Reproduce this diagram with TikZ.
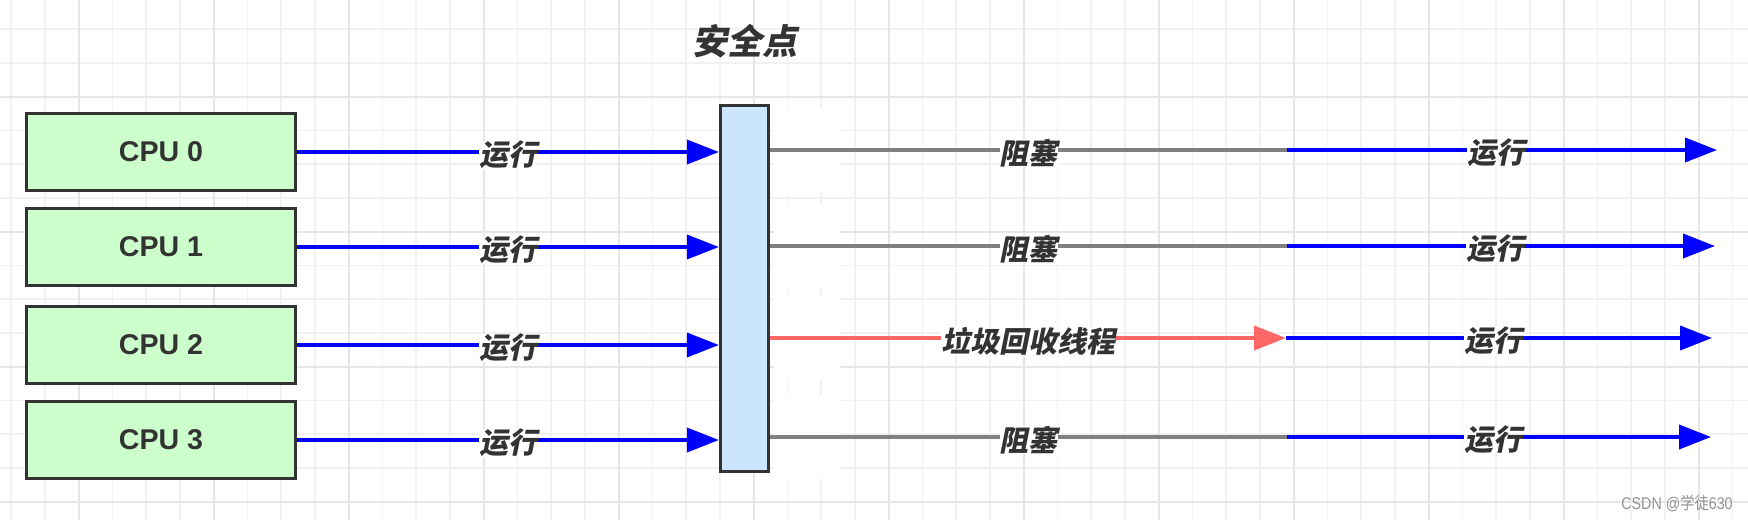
\documentclass[tikz,border=0pt]{standalone}
\usepackage{graphicx}
\usepackage{fontspec}
\setmainfont{Liberation Sans}
\newfontfamily\cjk[FakeSlant=0.2]{Noto Sans CJK SC}
\newfontfamily\cjkup{Noto Sans CJK SC}
\usetikzlibrary{arrows.meta}
\definecolor{txt}{HTML}{333333}
\definecolor{boxgreen}{HTML}{CCFFCC}
\definecolor{barblue}{HTML}{CCE5FF}
\definecolor{runblue}{HTML}{0000FF}
\definecolor{blockgray}{HTML}{808080}
\definecolor{gcred}{HTML}{FF6666}
\definecolor{gridminor}{HTML}{F1F1F1}
\definecolor{gridmajor}{HTML}{E6E6E6}
\tikzset{
  cpubox/.style={draw=txt, fill=boxgreen, line width=1.6pt, minimum width=134.5pt, minimum height=38.5pt, inner sep=0pt, text=txt, font=\bfseries\fontsize{14.3}{14.3}\selectfont},
  barbox/.style={draw=txt, fill=barblue, line width=1.6pt, minimum width=24pt, minimum height=183pt, inner sep=0pt},
  lbl/.style={fill=white, inner sep=0pt, text=txt, yshift=-1.5pt, font=\cjk\bfseries\fontsize{14.5}{14.5}\selectfont},
  tip/.style={-{Triangle[length=16pt,width=12pt]}},
  runline/.style={draw=runblue, line width=1.9pt},
  blockline/.style={draw=blockgray, line width=1.9pt},
  gcline/.style={draw=gcred, line width=1.9pt},
  gmin/.style={draw=gridminor, line width=0.9pt},
  gmaj/.style={draw=gridmajor, line width=0.9pt}
}
\begin{document}
\begin{tikzpicture}[x=0.5pt,y=-0.5pt]
\useasboundingbox (0,0) rectangle (1748,520);
% grid
\foreach \k in {0,...,51} \draw[gmin] ({11.25+33.75*\k},0) -- ({11.25+33.75*\k},520);
\foreach \k in {0,...,14} \draw[gmin] (0,{29.3+33.75*\k}) -- (1748,{29.3+33.75*\k});
\foreach \k in {2,6,...,50} \draw[gmaj] ({11.25+33.75*\k},0) -- ({11.25+33.75*\k},520);
\foreach \k in {2,6,10,14} \draw[gmaj] (0,{29.3+33.75*\k}) -- (1748,{29.3+33.75*\k});
% white patches beside the bar
\foreach \y in {150,246,338,437} \fill[white] (774,{\y-42}) rectangle (840,{\y+42});

% title
\node[text=txt, font=\cjk\bfseries\fontsize{17.5}{17.5}\selectfont] (title) at (745,41) {安全点};

% CPU boxes
\node[cpubox] (cpu0) at (161,152) {CPU 0};
\node[cpubox] (cpu1) at (161,247) {CPU 1};
\node[cpubox] (cpu2) at (161,345) {CPU 2};
\node[cpubox] (cpu3) at (161,440) {CPU 3};

% safe point bar
\node[barbox] (bar) at (744.5,288.5) {};

% left arrows
\foreach \i in {0,1,2,3}
  \draw[runline, tip, fill=runblue] (cpu\i.east) -- (cpu\i.east -| bar.west) node[lbl, midway] {运行};

% right side coordinates
\coordinate (s0) at (bar.east |- 0,150);
\coordinate (s1) at (bar.east |- 0,246);
\coordinate (s2) at (bar.east |- 0,338);
\coordinate (s3) at (bar.east |- 0,437);
\coordinate (m0) at (1287,150);
\coordinate (m1) at (1287,246);
\coordinate (m2) at (1286,338);
\coordinate (m3) at (1287,437);
\coordinate (e0) at (1717,150);
\coordinate (e1) at (1715,246);
\coordinate (e2) at (1712,338);
\coordinate (e3) at (1711,437);

% blocked / gc segments
\draw[blockline] (s0) -- (m0) node[lbl, midway] {阻塞};
\draw[blockline] (s1) -- (m1) node[lbl, midway] {阻塞};
\draw[gcline, tip, fill=gcred] (s2) -- (m2) node[lbl, midway] {垃圾回收线程};
\draw[blockline] (s3) -- (m3) node[lbl, midway] {阻塞};

% running again
\foreach \i in {0,1,2,3}
  \draw[runline, tip, fill=runblue] (m\i) -- (e\i) node[lbl, pos=0.486] {运行};

% watermark
\node[text=gray!85, inner sep=0pt] (wm) at (1677,503) {\scalebox{0.84}[1]{\fontsize{8.5}{8.5}\selectfont CSDN @{\cjkup 学徒}630}};
\end{tikzpicture}
\end{document}
